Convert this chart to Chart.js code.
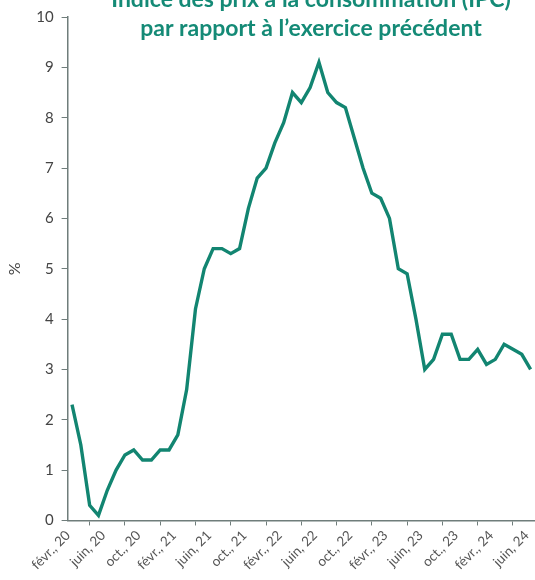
<!DOCTYPE html>
<html>
<head>
<meta charset="utf-8">
<script src="https://cdn.jsdelivr.net/npm/chart.js@4"></script>
<style>
    html, body { margin: 0; padding: 0; background: #fff; }
    #wrap { width: 535px; height: 580px; position: relative; }
</style>
</head>
<body>
<div id="wrap"><canvas id="myChart"></canvas></div>
<script>
// month names used for the category labels
const monthNames = ["janv.", "févr.", "mars", "avr.", "mai", "juin", "juil.", "août", "sept.", "oct.", "nov.", "déc."];
const titleLines = ["Indice des prix à la consommation (IPC)", "par rapport à l’exercice précédent"];

// monthly CPI change, févr. 2020 -> juin 2024
const cpiValues = [
    2.3, 1.5, 0.3, 0.1, 0.6, 1.0, 1.3, 1.4, 1.2, 1.2, 1.4,
    1.4, 1.7, 2.6, 4.2, 5.0, 5.4, 5.4, 5.3, 5.4, 6.2, 6.8, 7.0,
    7.5, 7.9, 8.5, 8.3, 8.6, 9.1, 8.5, 8.3, 8.2, 7.6, 7.0, 6.5,
    6.4, 6.0, 5.0, 4.9, 4.0, 3.0, 3.2, 3.7, 3.7, 3.2, 3.2, 3.4,
    3.1, 3.2, 3.5, 3.4, 3.3, 3.0
];
const yTicks = [0, 1, 2, 3, 4, 5, 6, 7, 8, 9, 10];

// build "févr., 20" style labels starting at févr. 2020
const months = [];
for (let i = 0; i < cpiValues.length; i++) {
    const m = (1 + i) % 12;
    const y = 20 + Math.floor((1 + i) / 12);
    months.push(monthNames[m] + ', ' + y);
}

const axisColor = '#6f7d7b';
const tealLine = '#128571';

const titlePlugin = {
    id: 'floatingTitle',
    afterDraw(chart) {
        const c = chart.ctx;
        c.save();
        c.fillStyle = '#148a76';
        c.font = 'bold 23px Lato';
        c.textAlign = 'center';
        c.textBaseline = 'middle';
        c.fillText(titleLines[0], 311, 0);
        c.fillText(titleLines[1], 311, 29);
        c.restore();
    }
};

const ctx = document.getElementById('myChart');
ctx.width = 535;
ctx.height = 580;

new Chart(ctx, {
    type: 'line',
    data: {
        labels: months,
        datasets: [{
            label: 'IPC',
            data: cpiValues,
            borderColor: tealLine,
            borderWidth: 3.4,
            pointRadius: 0,
            tension: 0,
            fill: false
        }]
    },
    options: {
        responsive: false,
        animation: false,
        layout: {
            padding: { top: 17, right: 0, left: 5, bottom: 5 }
        },
        plugins: {
            legend: { display: false },
            tooltip: { enabled: false }
        },
        scales: {
            x: {
                offset: true,
                afterFit: function (scale) {
                    scale.paddingRight = 0;
                },
                grid: {
                    offset: true,
                    drawOnChartArea: false,
                    color: axisColor,
                    tickLength: 5
                },
                border: { color: axisColor, width: 1.5 },
                ticks: {
                    autoSkip: false,
                    maxRotation: 45,
                    minRotation: 45,
                    labelOffset: -4,
                    padding: 2,
                    color: '#555',
                    font: { family: 'Lato', size: 13.5 },
                    callback: function (val, i) {
                        return i % 4 === 0 ? months[i] : null;
                    }
                }
            },
            y: {
                min: 0,
                max: 10,
                afterBuildTicks: function (axis) {
                    axis.ticks = yTicks.map(v => ({ value: v }));
                },
                grid: {
                    drawOnChartArea: false,
                    color: axisColor,
                    tickLength: 6
                },
                border: { color: axisColor, width: 1.5 },
                ticks: {
                    color: '#444',
                    padding: 8,
                    font: { family: 'Lato', size: 15 }
                },
                title: {
                    display: true,
                    text: '%',
                    color: '#444',
                    padding: { top: 0, bottom: 4 },
                    font: { family: 'Lato', size: 16 }
                }
            }
        }
    },
    plugins: [titlePlugin]
});
</script>
</body>
</html>
